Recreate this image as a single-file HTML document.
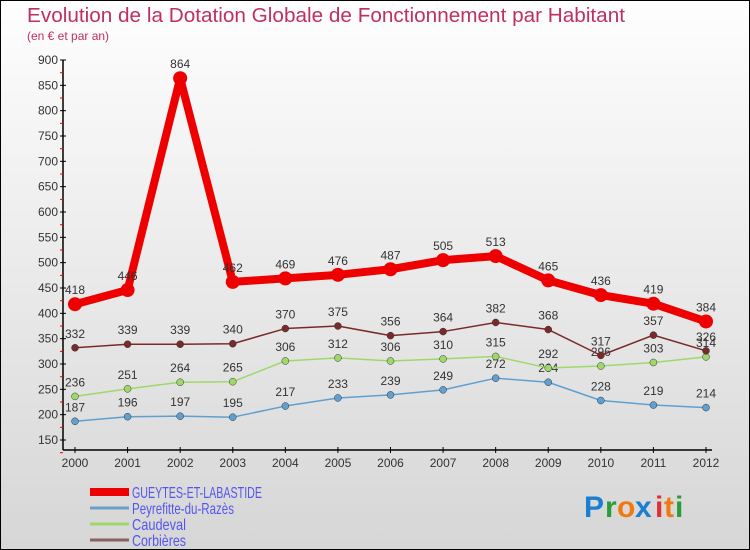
<!DOCTYPE html>
<html><head><meta charset="utf-8"><style>
html,body{margin:0;padding:0}
body{width:750px;height:550px;overflow:hidden;font-family:"Liberation Sans",sans-serif}
#wrap{position:relative;width:748px;height:548px;border:1px solid #000;background:linear-gradient(#fefefe,#d6d6d6)}
</style></head><body>
<div id="wrap">
<svg id="chart" width="748" height="548" viewBox="1 1 748 548" style="position:absolute;left:0;top:0">
<text x="27" y="22" font-size="20" fill="#c0305c" textLength="598" lengthAdjust="spacingAndGlyphs">Evolution de la Dotation Globale de Fonctionnement par Habitant</text>
<text x="27" y="40" font-size="12" fill="#c0305c">(en € et par an)</text>
<g id="axes"></g>
<g id="series"></g>
<g id="legend"></g>
<g font-size="30" font-family="'Liberation Sans',sans-serif" font-weight="bold">
<text x="584" y="517" fill="#1a7fd0">P</text><text x="605" y="517" fill="#2a9c3a">r</text><text x="617" y="517" fill="#f07a10">o</text><text x="635" y="517" fill="#1a7fd0">x</text><text x="655" y="517" fill="#e03030">i</text><text x="664" y="517" fill="#f07a10">t</text><text x="675" y="517" fill="#2a9c3a">i</text>
</g>
</svg>
</div>
<script>
const years=["2000","2001","2002","2003","2004","2005","2006","2007","2008","2009","2010","2011","2012"];
const yTicks=[150,200,250,300,350,400,450,500,550,600,650,700,750,800,850,900];
const gueytes=[418,446,864,462,469,476,487,505,513,465,436,419,384];
const peyrefitte=[187,196,197,195,217,233,239,249,272,264,228,219,214];
const caudeval=[236,251,264,265,306,312,306,310,315,292,296,303,314];
const corbieres=[332,339,339,340,370,375,356,364,382,368,317,357,326];
const seriesNames=["GUEYTES-ET-LABASTIDE","Peyrefitte-du-Razès","Caudeval","Corbières"];
const NS="http://www.w3.org/2000/svg";
function xs(i){return 75+i*(706-75)/(years.length-1);}
function ys(v){return 440-(v-150)*380/750;}
function mk(tag,attrs,parent){const e=document.createElementNS(NS,tag);for(const k in attrs)e.setAttribute(k,attrs[k]);parent.appendChild(e);return e;}
const axes=document.getElementById('axes');
let yl=mk('line',{x1:63,y1:60,x2:63,y2:450,stroke:'#000','stroke-width':1.5},axes);


let xl=mk('line',{x1:63,y1:450,x2:712,y2:450,stroke:'#000','stroke-width':1.5},axes);


yTicks.forEach(v=>{
  const y=ys(v);
  mk('line',{x1:60,y1:y,x2:66,y2:y,stroke:'#000'},axes);
  mk('line',{x1:60,y1:y+12.7,x2:63,y2:y+12.7,stroke:'#e00'},axes);
  const t=mk('text',{x:58,y:y+4,'font-size':12,fill:'#333','text-anchor':'end'},axes);
  t.textContent=v;
  
  
});
years.forEach((yr,i)=>{
  const x=xs(i);
  mk('line',{x1:x,y1:447,x2:x,y2:453,stroke:'#000'},axes);
  const t=mk('text',{x:x,y:467,'font-size':12,fill:'#333','text-anchor':'middle'},axes);
  t.textContent=yr;
  
  
});
const sg=document.getElementById('series');
function drawSeries(data,color,width,r,name){
  const g=mk('g',{},sg);
  
  
  mk('polyline',{points:data.map((v,i)=>xs(i)+','+ys(v)).join(' '),fill:'none',stroke:color,'stroke-width':width,'stroke-linejoin':'round'},g);
  data.forEach((v,i)=>{
    const c=mk('circle',{cx:xs(i),cy:ys(v),r:r,fill:color,stroke:width>3?'none':'#333','stroke-width':0.5},g);
    
    
    const t=mk('text',{x:xs(i),y:ys(v)-10,'font-size':12,fill:'#333','text-anchor':'middle'},g);
    t.textContent=v;
    
    
  });
}
drawSeries(peyrefitte,'#5fa0d0',1.5,3.5,'series-peyrefitte');
drawSeries(caudeval,'#9fd86a',1.5,3.5,'series-caudeval');
drawSeries(corbieres,'#7a2a2a',1.5,3.5,'series-corbieres');
drawSeries(gueytes,'#ee0000',8,7,'series-gueytes');
const lg=document.getElementById('legend');
const lcol=['#ee0000','#6aa0c8','#9fd86a','#8a6060'];
const lw=[8,3,3,3];
const lLen=[130,102,54,54];
seriesNames.forEach((n,i)=>{
  const y=492+i*16;
  const g=mk('g',{},lg);
  
  
  mk('line',{x1:90,y1:y,x2:129,y2:y,stroke:lcol[i],'stroke-width':lw[i]},g);
  const t=mk('text',{x:132,y:y+6,'font-size':16,fill:'#5555ee',textLength:lLen[i],lengthAdjust:'spacingAndGlyphs'},g);
  t.textContent=n;
});
</script>
</body></html>
